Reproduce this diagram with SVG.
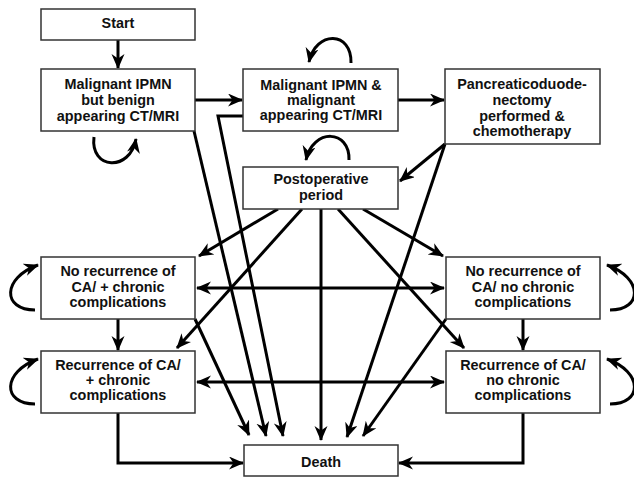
<svg xmlns="http://www.w3.org/2000/svg" width="634" height="481" viewBox="0 0 634 481">
<defs>
<style>
.box rect{fill:#fff;stroke:#333;stroke-width:1.5}
.box text{font-family:"Liberation Sans",Arial,Helvetica,sans-serif;font-weight:bold;font-size:14.4px;fill:#111;text-anchor:middle}
.c path{fill:none;stroke:#000;stroke-width:3;stroke-linejoin:miter}
.a{marker-end:url(#ah)}
.d{marker-start:url(#ah);marker-end:url(#ah)}
</style>
<marker id="ah" markerUnits="userSpaceOnUse" markerWidth="17" markerHeight="14" refX="14" refY="6.5" orient="auto-start-reverse">
<path d="M0,0 L15,6.5 L0,13 L4.5,6.5 z" fill="#000"/>
</marker>
</defs>
<rect width="634" height="481" fill="#fff"/>
<g class="c">
<path class="a" d="M118 40 V68"/>
<path class="a" d="M195 100 H242"/>
<path class="a" d="M398 100 H444"/>
<path class="a" d="M445 144 L400 181"/>
<path class="a" d="M445 144 L347 437"/>
<path class="a" d="M194 131 L266 436"/>
<path class="a" d="M243 116 H218 L283 436"/>
<path class="a" d="M278 209 L199 256"/>
<path class="a" d="M302 209 L177 348"/>
<path class="a" d="M321 209 V440"/>
<path class="a" d="M363 209 L443 256"/>
<path class="a" d="M338 209 L464 348"/>
<path class="d" d="M197 288 H444"/>
<path class="d" d="M197 382 H444"/>
<path class="a" d="M118 319 V350"/>
<path class="a" d="M523 319 V350"/>
<path class="a" d="M195 319 L249 435"/>
<path class="a" d="M446 319 L363 436"/>
<path class="a" d="M118 413 V463 H243"/>
<path class="a" d="M523 413 V463 H399"/>
<path class="a" d="M94 137 C90 170, 130 172, 136 139"/>
<path class="a" d="M351 63 C352 31, 316 30, 309 62"/>
<path class="a" d="M349 160 C350 129, 313 128, 306 160"/>
<path class="a" d="M35 310 C2 310, 2 278, 38 265"/>
<path class="a" d="M35 404 C2 404, 2 372, 38 359"/>
<path class="a" d="M610 310 C643 310, 643 278, 607 265"/>
<path class="a" d="M610 404 C643 404, 643 372, 607 359"/>
</g>
<g id="start" class="box"><rect x="41" y="9" width="154" height="31"/><text x="118" y="28">Start</text></g>
<g id="malignant-benign" class="box"><rect x="41" y="69" width="154" height="62"/><text x="118" y="89">Malignant IPMN</text><text x="118" y="105">but benign</text><text x="118" y="121">appearing CT/MRI</text></g>
<g id="malignant-malignant" class="box"><rect x="243" y="69" width="155" height="62"/><text x="321" y="90">Malignant IPMN &amp;</text><text x="321" y="105">malignant</text><text x="321" y="120">appearing CT/MRI</text></g>
<g id="pancreaticoduodenectomy" class="box"><rect x="445" y="69" width="155" height="75"/><text x="522" y="89">Pancreaticoduode-</text><text x="522" y="105">nectomy</text><text x="522" y="121">performed &amp;</text><text x="522" y="136">chemotherapy</text></g>
<g id="postoperative" class="box"><rect x="243" y="167" width="155" height="42"/><text x="321" y="184">Postoperative</text><text x="321" y="200">period</text></g>
<g id="norec-chronic" class="box"><rect x="41" y="257" width="154" height="62"/><text x="118" y="276">No recurrence of</text><text x="118" y="292">CA/ + chronic</text><text x="118" y="307">complications</text></g>
<g id="rec-chronic" class="box"><rect x="41" y="351" width="154" height="62"/><text x="118" y="370">Recurrence of CA/</text><text x="118" y="385">+ chronic</text><text x="118" y="400">complications</text></g>
<g id="norec-nochronic" class="box"><rect x="446" y="257" width="154" height="62"/><text x="523" y="276">No recurrence of</text><text x="523" y="292">CA/ no chronic</text><text x="523" y="307">complications</text></g>
<g id="rec-nochronic" class="box"><rect x="446" y="351" width="154" height="62"/><text x="523" y="370">Recurrence of CA/</text><text x="523" y="385">no chronic</text><text x="523" y="400">complications</text></g>
<g id="death" class="box"><rect x="244" y="445" width="154" height="31"/><text x="321" y="467">Death</text></g>
</svg>
